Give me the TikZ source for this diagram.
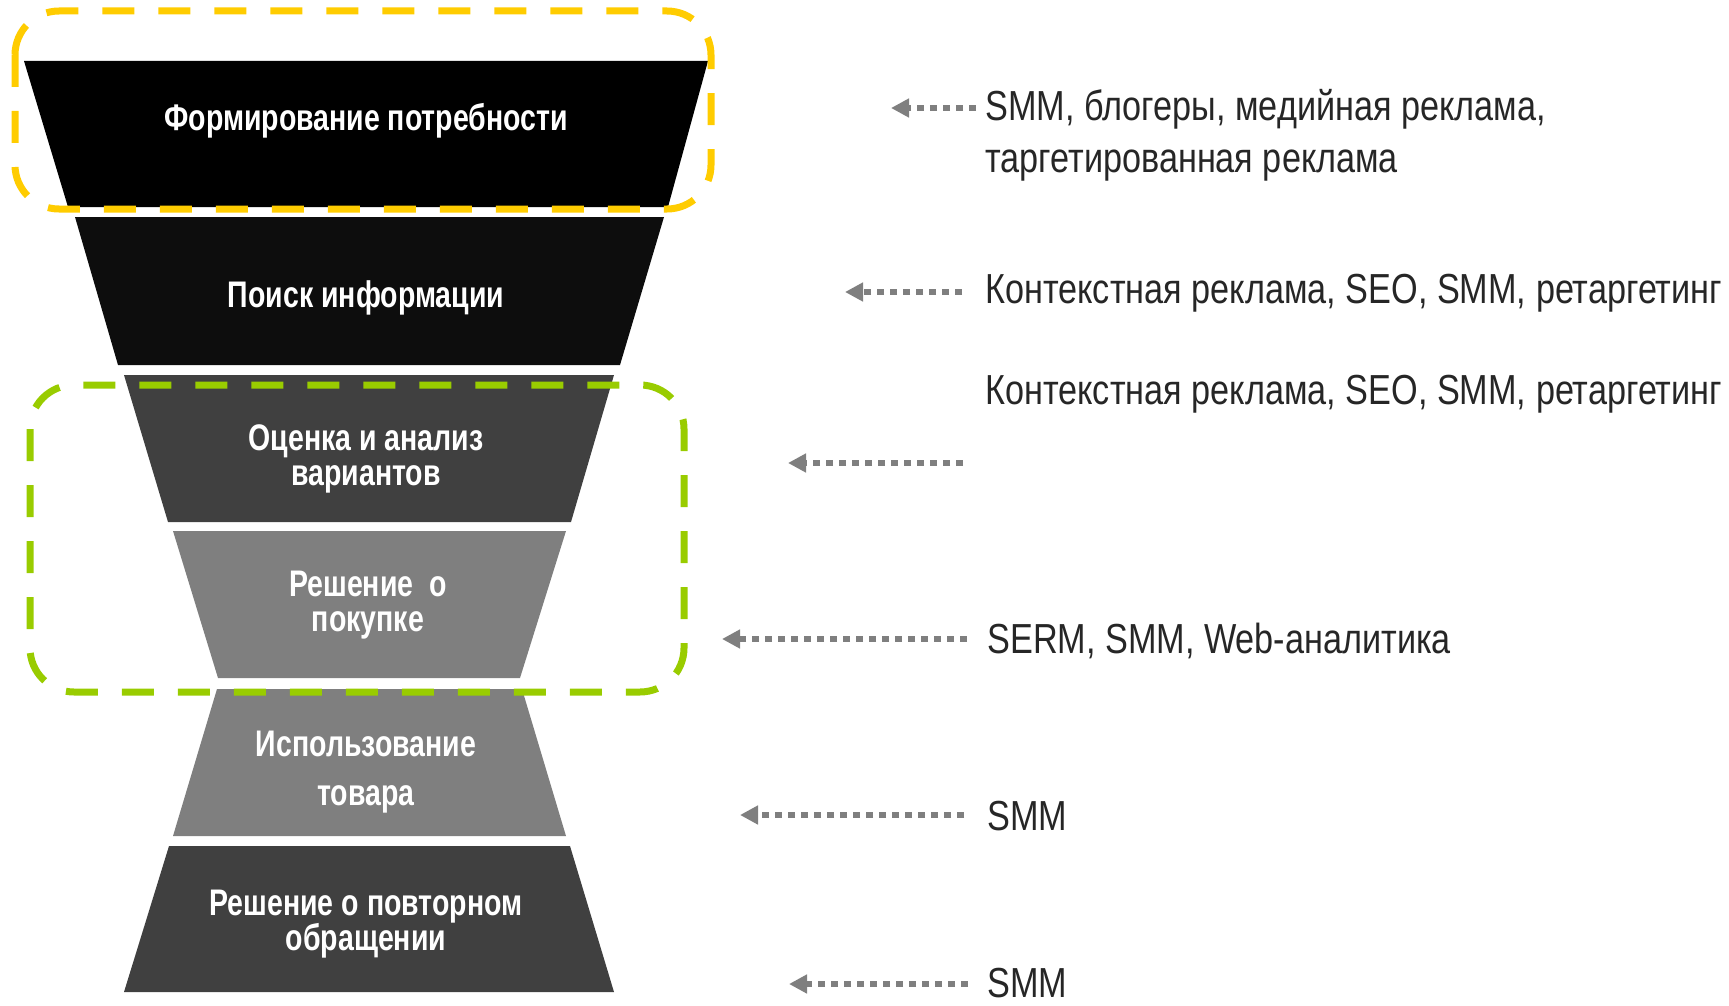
\documentclass[tikz,border=0pt]{standalone}
\usepackage{fontspec}
\setmainfont{Liberation Sans}
\newfontfamily\funfont[FakeStretch=0.77]{Liberation Sans}
\newfontfamily\sidefont[FakeStretch=0.815]{Liberation Sans}
\usetikzlibrary{arrows.meta}
\definecolor{ylw}{HTML}{FFCC00}
\definecolor{grn}{HTML}{99CC00}
\definecolor{arrg}{HTML}{7F7F7F}
\definecolor{txtc}{HTML}{262626}
\definecolor{cA}{HTML}{000000}
\definecolor{cB}{HTML}{0D0D0D}
\definecolor{cC}{HTML}{404040}
\definecolor{cD}{HTML}{7F7F7F}
\tikzset{
  funlabel/.style={text=white, font=\funfont\bfseries\fontsize{18.5}{17.5}\selectfont, align=center, inner sep=0pt},
  sidelabel/.style={text=txtc, font=\sidefont\fontsize{21}{26}\selectfont, anchor=west, align=left, inner sep=0pt},
  arr/.style={draw=arrg, line width=3pt, dash pattern=on 3.5pt off 3pt, -{Triangle[length=9pt,width=9pt]}},
  groupbox/.style={line width=3.5pt, dash pattern=on 16pt off 12pt, rounded corners=22pt}
}
\begin{document}
\begin{tikzpicture}[x=0.5pt,y=-0.5pt]
\useasboundingbox (0,0) rectangle (1729,1006);
% funnel
\fill[cA] (24,61) -- (708,61) -- (668,207) -- (68,207) -- cycle;
\fill[cB] (75,217) -- (664,217) -- (620,365) -- (118,365) -- cycle;
\fill[cC] (124,375) -- (614,375) -- (571,522) -- (168,522) -- cycle;
\fill[cD] (173,531) -- (566,531) -- (520,678) -- (218,678) -- cycle;
\fill[cD] (217,689) -- (522,689) -- (566,836) -- (173,836) -- cycle;
\fill[cC] (169,846) -- (570,846) -- (614,992) -- (124,992) -- cycle;
% labels
\node[funlabel] (l1) at (366,121) {Формирование потребности};
\node[funlabel] (l2) at (366,298) {Поиск информации};
\node[funlabel] (l3) at (366,459) {Оценка и анализ\\вариантов};
\node[funlabel] (l4) at (368,605) {Решение\ \ о\\покупке};
\node[funlabel, font=\funfont\bfseries\fontsize{18.5}{24.5}\selectfont] (l5) at (366,772) {Использование\\товара};
\node[funlabel] (l6) at (366,924) {Решение о повторном\\обращении};
% group boxes
\draw[groupbox, ylw] (15,11) rectangle (711,209);
\draw[groupbox, grn] (30,385) rectangle (684,692);
% side texts
\node[sidelabel] (t1) at (985,135) {SMM, блогеры, медийная реклама,\\таргетированная реклама};
\node[sidelabel] (t2) at (985,293) {Контекстная реклама, SEO, SMM, ретаргетинг};
\node[sidelabel] (t3) at (985,394) {Контекстная реклама, SEO, SMM, ретаргетинг};
\node[sidelabel] (t4) at (987,641) {SERM, SMM, Web-аналитика};
\node[sidelabel] (t5) at (987,816) {SMM};
\node[sidelabel] (t6) at (987,983) {SMM};
% arrows
\coordinate (a1s) at (976,108); \coordinate (a1t) at (891,108);
\coordinate (a2s) at (962,292); \coordinate (a2t) at (845,292);
\coordinate (a3s) at (963,463); \coordinate (a3t) at (788,463);
\coordinate (a4s) at (967,639); \coordinate (a4t) at (722,639);
\coordinate (a5s) at (964,815); \coordinate (a5t) at (740,815);
\coordinate (a6s) at (968,984); \coordinate (a6t) at (789,984);
\draw[arr] (a1s) -- (a1t);
\draw[arr] (a2s) -- (a2t);
\draw[arr] (a3s) -- (a3t);
\draw[arr] (a4s) -- (a4t);
\draw[arr] (a5s) -- (a5t);
\draw[arr] (a6s) -- (a6t);
\end{tikzpicture}
\end{document}
